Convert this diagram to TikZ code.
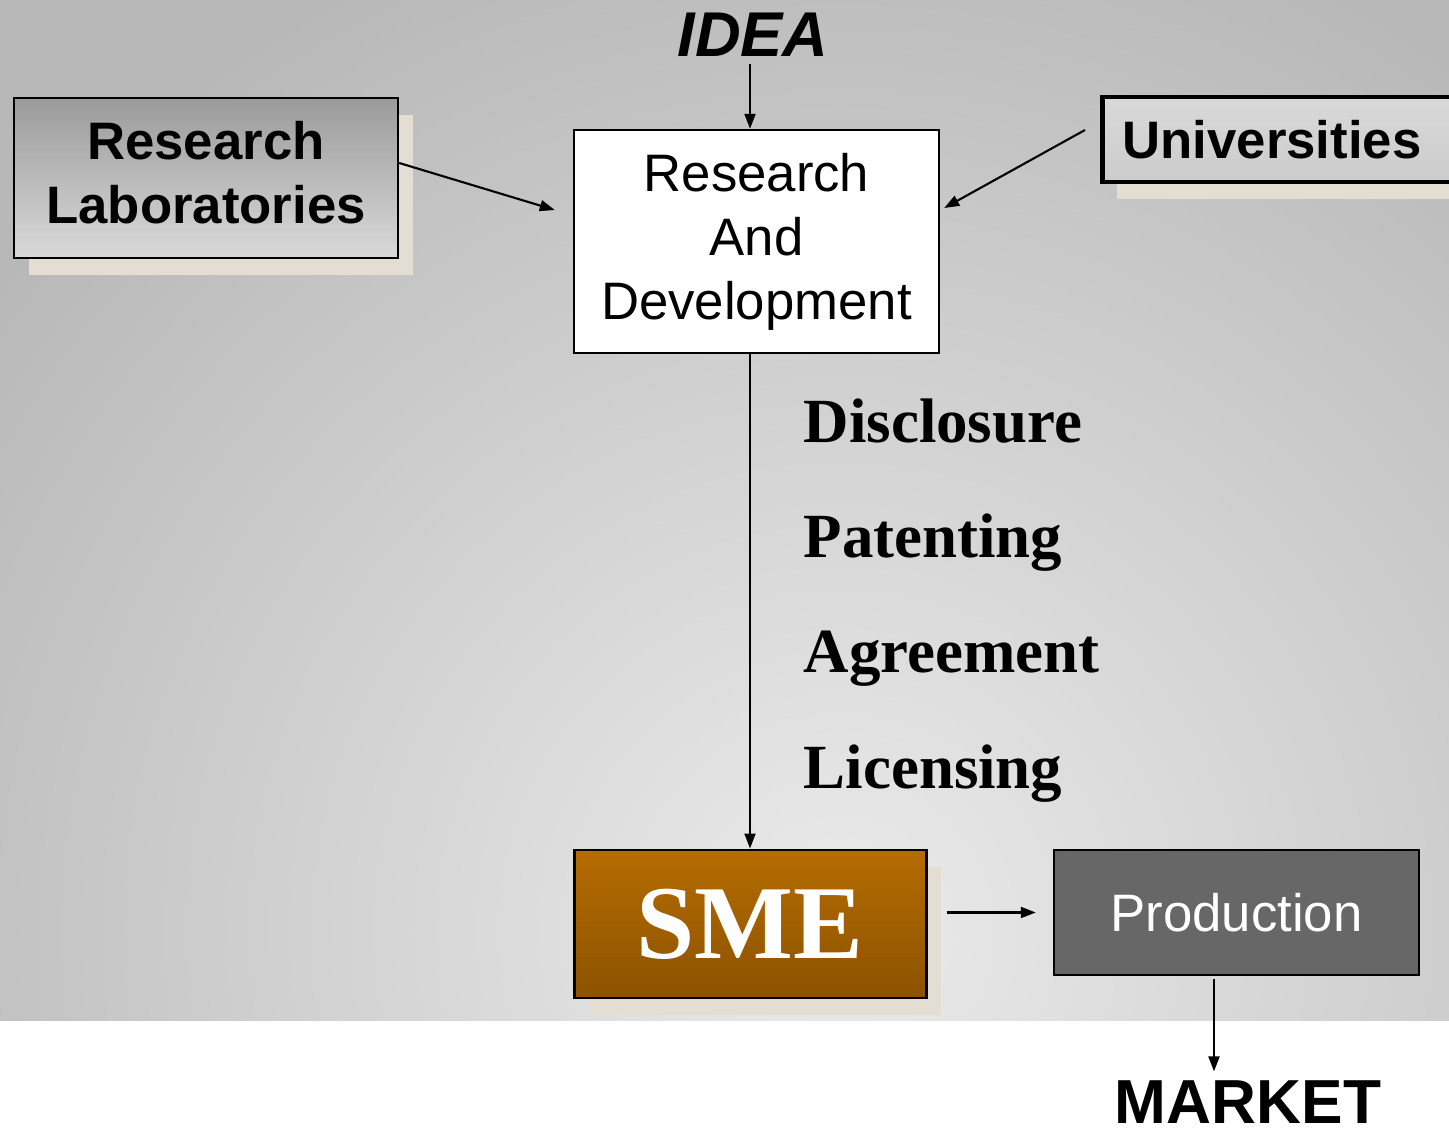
\documentclass[tikz,border=0pt]{standalone}
\usepackage{fontspec}
\setmainfont{Liberation Serif}
\setsansfont{Liberation Sans}
\usetikzlibrary{calc, shadows, arrows.meta}
\definecolor{shadowbeige}{RGB}{227,221,211}
\definecolor{bginner}{RGB}{235,235,235}
\definecolor{bgouter}{RGB}{184,184,184}
\definecolor{rltop}{RGB}{155,155,155}
\definecolor{rlbot}{RGB}{217,217,217}
\definecolor{smetop}{RGB}{181,108,0}
\definecolor{smebot}{RGB}{140,82,0}
\definecolor{prodgray}{RGB}{103,103,103}

\begin{document}
\begin{tikzpicture}[
box/.style = {% framed boxes
    draw=black, line width=0.7pt, align=center, inner sep=0pt,
            },
shd/.style = {% beige drop shadow
    drop shadow={shadow xshift=0.15cm, shadow yshift=-0.17cm,
                 fill=shadowbeige, opacity=1},
            },
arr/.style = {-{Triangle[length=0.15cm,width=0.11cm]}, line width=0.6pt},
sanslab/.style = {font=\sffamily\fontsize{15pt}{18.2pt}\selectfont},
sansbold/.style = {font=\sffamily\bfseries\fontsize{15pt}{18.2pt}\selectfont},
steplab/.style = {% steps beside the line
    inner sep=0pt, anchor=base west,
    font=\rmfamily\bfseries\fontsize{17.9pt}{20pt}\selectfont,
            },
                        ]
\useasboundingbox (0,0) rectangle (14.49,-11.32);
\clip (0,0) rectangle (14.49,-11.32);
% background
\fill[white] (0,0) rectangle (14.49,-11.32);
\begin{scope}
    \clip (0,0) rectangle (14.49,-10.20);
    \shade[inner color=bginner, outer color=bgouter]
          (8.4-10.6,-9.3+10.6) rectangle (8.4+10.6,-9.3-10.6);
\end{scope}
% boxes
\node[box, shd, minimum width=3.84cm, minimum height=1.6cm,
      top color=rltop, bottom color=rlbot,
      label={[sansbold, align=center, yshift=0.05cm]center:Research\\Laboratories}]
      (rl) at (2.06,-1.78) {};
\node[box, sanslab, fill=white, minimum width=3.65cm, minimum height=2.23cm]
      (rd) at (7.565,-2.415) {Research\\And\\Development};
\node[box, shd, sansbold, line width=1.4pt, anchor=west, align=left,
      inner xsep=0.2cm, text width=3.4cm, minimum height=0.85cm,
      top color=black!15, bottom color=black!20] (univ) at (11.00,-1.395)
      {Universities};
\node[box, shd, line width=0.85pt, minimum width=3.52cm, minimum height=1.48cm,
      top color=smetop, bottom color=smebot, text=white,
      font=\rmfamily\bfseries\fontsize{29.8pt}{30pt}\selectfont]
      (sme) at (7.50,-9.24) {SME};
\node[box, sanslab, fill=prodgray, text=white, minimum width=3.65cm,
      minimum height=1.25cm] (prod) at (12.365,-9.125) {Production};
% free labels
\node[inner sep=0pt, font=\sffamily\bfseries\itshape\fontsize{18pt}{20pt}\selectfont]
      (idea) at (7.53,-0.35) {IDEA};
\node[inner sep=0pt, font=\sffamily\bfseries\fontsize{17.7pt}{20pt}\selectfont]
      (market) at (12.48,-11.02) {MARKET};
\foreach \w [count=\i] in {Disclosure, Patenting, Agreement, Licensing}
    {\node[steplab] (lab\i) at (8.03,{-4.43-1.15*(\i-1)}) {\w};}
% arrows
\draw[arr] ($(idea.south -| sme.north)+(0,-0.07)$) -- (sme.north |- rd.north);
\draw[arr] ($(rl.east)+(0,0.15)$) -- ($(rd.west)+(-0.18,0.315)$);
\draw[arr] ($(univ.west)+(-0.15,0.095)$) -- ($(rd.east)+(0.04,0.335)$);
\draw[arr] (rd.south -| sme.north) -- (sme.north);
\draw[arr] ($(sme.east |- prod.west)+(0.19,0)$) -- ($(prod.west)+(-0.17,0)$);
\draw[arr] ($(prod.south)+(-0.225,-0.03)$) -- ($(prod.south |- market.north)+(-0.225,0.085)$);
\end{tikzpicture}
\end{document}
